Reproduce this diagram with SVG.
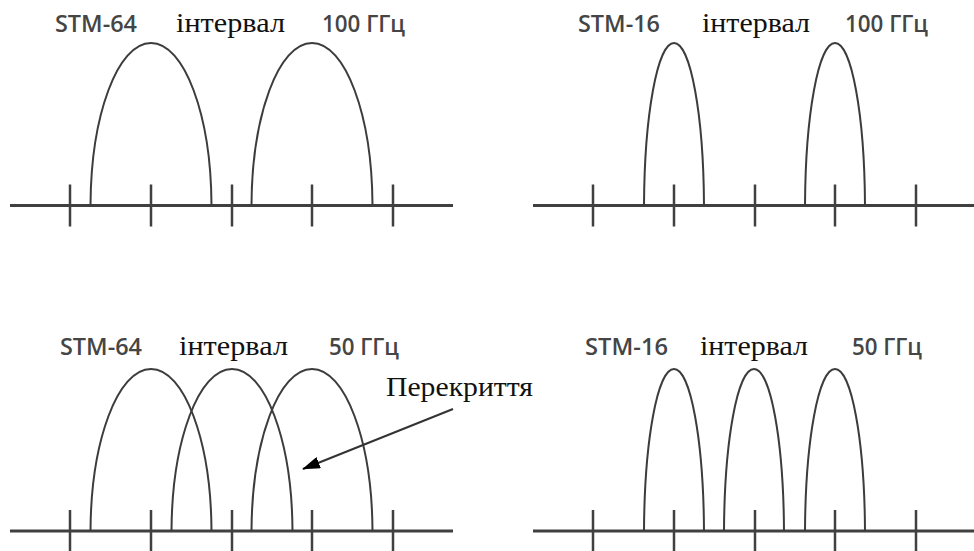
<svg xmlns="http://www.w3.org/2000/svg" width="974" height="551" viewBox="0 0 974 551">
<style>
.ax{stroke:#404040;stroke-width:3;fill:none}
.tk{stroke:#404040;stroke-width:2.5;fill:none}
.arc{stroke:#3c3c3c;stroke-width:2;fill:none}
.lb{font-family:"Open Sans","Liberation Sans",sans-serif;font-size:24px;font-weight:600;fill:#454545}
.sr{font-family:"Liberation Serif","DejaVu Serif",serif;font-size:28px;fill:#111}
</style>
<defs>
<path id="wide" d="M-60.5,0 C-60,-90 -33.4,-162 0,-162 S60,-90 60.5,0"/>
<path id="narrow" d="M-30,0 C-29.5,-90 -16.6,-162 0,-162 S29.5,-90 30,0"/>
<path id="ticks" d="M70,-21V21M151,-21V21M232,-21V21M312,-21V21M393,-21V21"/>
<marker id="ah" viewBox="0 0 18 12" refX="17" refY="6" markerWidth="18" markerHeight="12" orient="auto" markerUnits="userSpaceOnUse">
<path d="M0,0L18,6L0,12z" fill="#000"/>
</marker>
</defs>

<g id="panel-stm64-100">
<path class="ax" d="M10,205.5H453"/>
<use href="#ticks" class="tk" transform="translate(0,205.5)"/>
<use href="#wide" class="arc" transform="translate(151,205)"/>
<use href="#wide" class="arc" transform="translate(312,205)"/>
<text class="lb" x="55" y="32" textLength="82" lengthAdjust="spacingAndGlyphs">STM-64</text>
<text class="sr" x="176" y="32" textLength="109" lengthAdjust="spacingAndGlyphs">інтервал</text>
<text class="lb" x="322" y="32" textLength="83" lengthAdjust="spacingAndGlyphs">100 ГГц</text>
</g>

<g id="panel-stm16-100">
<path class="ax" d="M533,205.5H974"/>
<use href="#ticks" class="tk" transform="translate(523,205.5)"/>
<use href="#narrow" class="arc" transform="translate(674,205)"/>
<use href="#narrow" class="arc" transform="translate(835,205)"/>
<text class="lb" x="578" y="32" textLength="82" lengthAdjust="spacingAndGlyphs">STM-16</text>
<text class="sr" x="702" y="32" textLength="108" lengthAdjust="spacingAndGlyphs">інтервал</text>
<text class="lb" x="845" y="32" textLength="83" lengthAdjust="spacingAndGlyphs">100 ГГц</text>
</g>

<g id="panel-stm64-50">
<path class="ax" d="M10,531H453"/>
<use href="#ticks" class="tk" transform="translate(0,531)"/>
<use href="#wide" class="arc" transform="translate(151,531)"/>
<use href="#wide" class="arc" transform="translate(232,531)"/>
<use href="#wide" class="arc" transform="translate(312,531)"/>
<text class="lb" x="60" y="355" textLength="82" lengthAdjust="spacingAndGlyphs">STM-64</text>
<text class="sr" x="179" y="355" textLength="109" lengthAdjust="spacingAndGlyphs">інтервал</text>
<text class="lb" x="329" y="355" textLength="70" lengthAdjust="spacingAndGlyphs">50 ГГц</text>
<text class="sr" x="386" y="396" textLength="147" lengthAdjust="spacingAndGlyphs">Перекриття</text>
</g>

<g id="panel-stm16-50">
<path class="ax" d="M533,531H974"/>
<use href="#ticks" class="tk" transform="translate(523,531)"/>
<use href="#narrow" class="arc" transform="translate(674,531)"/>
<use href="#narrow" class="arc" transform="translate(754,531)"/>
<use href="#narrow" class="arc" transform="translate(835,531)"/>
<text class="lb" x="585" y="355" textLength="83" lengthAdjust="spacingAndGlyphs">STM-16</text>
<text class="sr" x="700" y="355" textLength="108" lengthAdjust="spacingAndGlyphs">інтервал</text>
<text class="lb" x="852" y="355" textLength="70" lengthAdjust="spacingAndGlyphs">50 ГГц</text>
</g>

<g id="connectors">
<path d="M453,409L303,469" stroke="#333" stroke-width="2" fill="none" marker-end="url(#ah)"/>
</g>
</svg>
